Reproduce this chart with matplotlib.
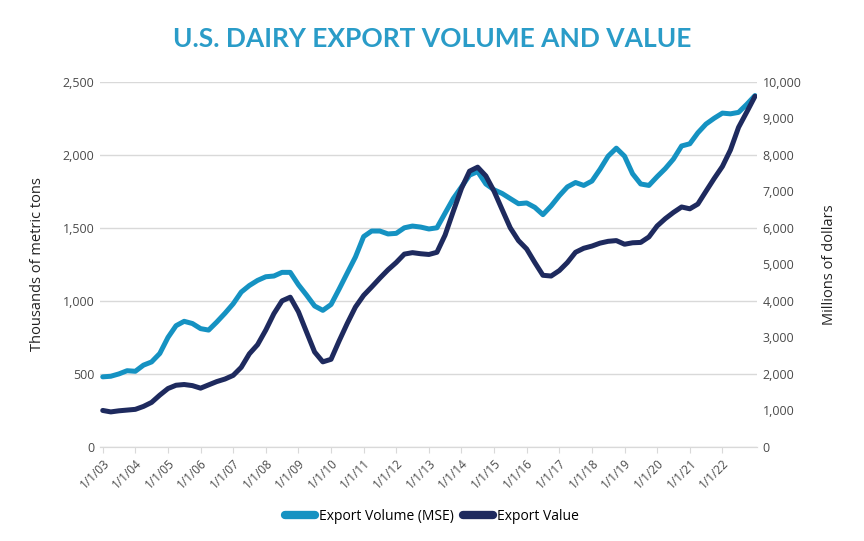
import numpy as np
import pandas as pd
import matplotlib
matplotlib.use("Agg")
import matplotlib.pyplot as plt
import matplotlib.dates as mdates
from matplotlib.ticker import FuncFormatter

# U.S. dairy exports: volume (MSE, thousand MT) and value (million $), quarterly reads

dates = pd.date_range("2003-01-01", "2023-01-01", freq="QS")

volume = [
    480, 484, 500, 522,        # 2003
    518, 560, 582, 640,        # 2004
    750, 830, 860, 845,        # 2005
    810, 800, 855, 915,        # 2006
    980, 1060, 1105, 1140,     # 2007
    1165, 1170, 1195, 1195,    # 2008
    1110, 1040, 965, 935,      # 2009
    975, 1080, 1190, 1300,     # 2010
    1440, 1478, 1478, 1458,    # 2011
    1462, 1500, 1512, 1505,    # 2012
    1492, 1500, 1600, 1700,    # 2013
    1780, 1860, 1885, 1800,    # 2014
    1760, 1735, 1700, 1665,    # 2015
    1670, 1640, 1590, 1650,    # 2016
    1720, 1780, 1810, 1790,    # 2017
    1820, 1900, 1990, 2045,    # 2018
    1990, 1870, 1800, 1790,    # 2019
    1850, 1905, 1970, 2060,    # 2020
    2075, 2150, 2210, 2250,    # 2021
    2285, 2280, 2290, 2345,    # 2022
    2405,                      # end
]

value = [
    1000, 960, 990, 1010,      # 2003
    1030, 1110, 1220, 1420,    # 2004
    1600, 1690, 1710, 1680,    # 2005
    1610, 1700, 1790, 1860,    # 2006
    1960, 2180, 2550, 2800,    # 2007
    3200, 3650, 4000, 4100,    # 2008
    3700, 3150, 2600, 2330,    # 2009
    2400, 2900, 3380, 3830,    # 2010
    4150, 4380, 4620, 4850,    # 2011
    5050, 5280, 5320, 5290,    # 2012
    5270, 5330, 5800, 6450,    # 2013
    7080, 7550, 7660, 7420,    # 2014
    7000, 6500, 6000, 5650,    # 2015
    5420, 5050, 4700, 4680,    # 2016
    4830, 5050, 5330, 5440,    # 2017
    5500, 5580, 5630, 5650,    # 2018
    5550, 5590, 5600, 5750,    # 2019
    6050, 6250, 6420, 6570,    # 2020
    6520, 6650, 7000, 7350,    # 2021
    7680, 8130, 8750, 9170,    # 2022
    9600,                      # end
]

year_ticks = pd.date_range("2003-01-01", "2022-01-01", freq="YS")
year_labels = [d.strftime("1/1/%y") for d in year_ticks]

vol_col = "#1592c2"
val_col = "#1e2a5e"
title_col = "#2a9cc8"
txt_col = "#4a4a4a"
grid_col = "#d9d9d9"

plt.rcParams["font.family"] = ["Open Sans", "DejaVu Sans"]

fig = plt.figure(figsize=(8.64, 5.41), dpi=100)
ax1 = fig.add_axes([0.1157, 0.1738, 0.876 - 0.1157, 0.849 - 0.1738])
ax2 = ax1.twinx()

ax1.plot(dates, volume, color=vol_col, lw=3.6, solid_capstyle="round",
         solid_joinstyle="round", label="Export Volume (MSE)", zorder=3)
ax2.plot(dates, value, color=val_col, lw=3.6, solid_capstyle="round",
         solid_joinstyle="round", label="Export Value", zorder=3)

ax1.set_ylim(0, 2500)
ax2.set_ylim(0, 10000)
ax1.set_yticks(np.arange(0, 2501, 500))
ax2.set_yticks(np.arange(0, 10001, 1000))
fmt = FuncFormatter(lambda v, p: f"{int(v):,}")
ax1.yaxis.set_major_formatter(fmt)
ax2.yaxis.set_major_formatter(fmt)

ax1.set_xlim(pd.Timestamp("2002-12-01"), pd.Timestamp("2023-01-22"))
ax1.set_xticks(year_ticks)
ax1.set_xticklabels(year_labels, rotation=45, ha="right", rotation_mode="anchor")

ax1.grid(axis="y", color=grid_col, lw=1.0)
ax1.set_axisbelow(True)
for ax in (ax1, ax2):
    for s in ("top", "left", "right"):
        ax.spines[s].set_visible(False)
    ax.spines["bottom"].set_color(grid_col)
    ax.tick_params(axis="y", length=0, labelsize=9, labelcolor=txt_col, pad=4)
ax1.tick_params(axis="x", length=4, color=grid_col, labelsize=8.5,
                labelcolor=txt_col, pad=3)

ax1.set_ylabel("Thousands of metric tons", fontsize=10.5, color="#222222", labelpad=13)
ax2.set_ylabel("Millions of dollars", fontsize=10.5, color="#222222", labelpad=15)

fig.text(0.5, 0.928, "U.S. DAIRY EXPORT VOLUME AND VALUE", ha="center", va="center",
         fontsize=19, fontweight="bold", color=title_col, family=["Lato", "DejaVu Sans"])

h1, l1 = ax1.get_legend_handles_labels()
h2, l2 = ax2.get_legend_handles_labels()
leg = fig.legend(h1 + h2, l1 + l2, loc="center", bbox_to_anchor=(0.5, 0.045), ncol=2,
                 frameon=False, fontsize=10, handlelength=2.2, handletextpad=0.3,
                 columnspacing=0.6)
for line in leg.get_lines():
    line.set_linewidth(6)

fig.savefig("out.png", dpi=100)
